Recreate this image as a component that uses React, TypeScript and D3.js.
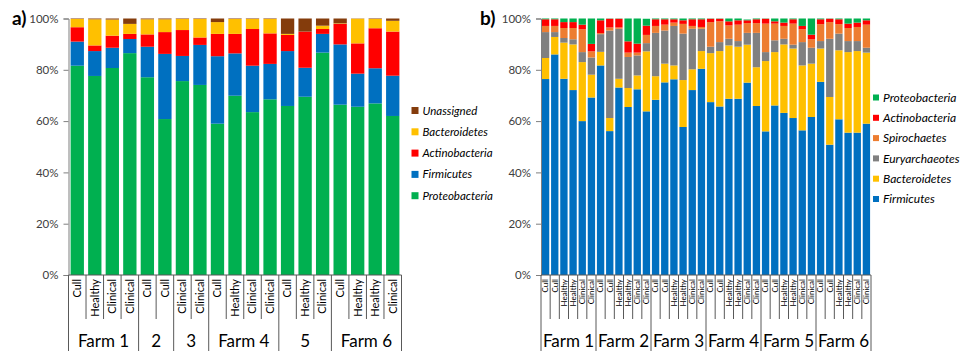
import React, { useEffect, useRef } from 'react';
import * as d3 from 'd3';

// ---- panel a data (relative abundance, %) ----
const catsA = ['Cull', 'Healthy', 'Clinical', 'Clinical', 'Cull', 'Cull', 'Clinical', 'Clinical', 'Cull', 'Healthy', 'Clinical', 'Clinical', 'Cull', 'Healthy', 'Clinical', 'Cull', 'Healthy', 'Healthy', 'Clinical'];
const farmLabelsA = ['Farm 1', '2', '3', 'Farm 4', '5', 'Farm 6'];
const farmSizesA = [4, 2, 2, 4, 3, 4];
const proteoA = [81.6, 77.6, 80.7, 86.5, 77.1, 60.8, 75.6, 74.1, 59.0, 69.9, 63.5, 68.5, 65.9, 69.5, 86.7, 66.4, 65.6, 66.9, 62.0];
const firmA = [9.4, 9.7, 7.9, 5.5, 11.9, 25.4, 9.8, 15.6, 26.3, 16.5, 18.1, 13.8, 21.4, 11.3, 7.3, 23.5, 12.9, 13.7, 15.7];
const actinoA = [5.6, 2.2, 4.7, 2.0, 4.8, 8.5, 10.1, 2.9, 8.7, 7.6, 14.3, 11.9, 6.3, 14.1, 1.9, 8.0, 11.8, 15.6, 17.2];
const bacteroA = [3.2, 10.2, 6.3, 3.9, 5.9, 5.0, 4.3, 7.2, 4.6, 5.8, 3.9, 5.6, 0.4, 0.0, 1.3, 0.2, 9.6, 3.6, 4.2];
const unassA = [0.2, 0.3, 0.4, 2.1, 0.3, 0.3, 0.2, 0.2, 1.4, 0.2, 0.2, 0.2, 6.0, 5.1, 2.8, 1.9, 0.1, 0.2, 0.9];

// ---- panel b data ----
const catsB = Array.from({ length: 6 }, () => ['Cull', 'Cull', 'Healthy', 'Healthy', 'Clinical', 'Clinical']).flat();
const farmLabelsB = ['Farm 1', 'Farm 2', 'Farm 3', 'Farm 4', 'Farm 5', 'Farm 6'];
const farmSizesB = [6, 6, 6, 6, 6, 6];
const firmB = [76.4, 86.0, 76.5, 72.1, 60.0, 69.2, 81.7, 56.1, 73.1, 65.5, 72.4, 63.8, 68.3, 75.1, 76.3, 57.7, 72.1, 80.4, 67.4, 65.7, 68.7, 68.7, 75.0, 65.9, 56.0, 66.1, 63.2, 61.2, 56.4, 61.6, 75.3, 50.8, 60.7, 55.5, 55.5, 59.0];
const bacteroB = [8.2, 6.8, 14.1, 17.8, 23.0, 8.9, 5.3, 5.1, 3.4, 7.4, 5.4, 23.4, 9.2, 7.3, 5.4, 18.3, 8.1, 6.9, 19.1, 21.6, 20.8, 20.3, 14.8, 15.1, 27.4, 20.8, 26.7, 27.1, 25.3, 20.8, 13.0, 18.6, 26.9, 31.4, 31.8, 27.7];
const euryB = [10.1, 1.9, 1.8, 2.0, 3.9, 6.7, 6.9, 34.1, 19.5, 12.1, 7.8, 3.2, 16.9, 12.9, 15.4, 18.1, 15.8, 8.7, 2.5, 3.5, 2.6, 2.2, 4.6, 13.4, 3.5, 4.6, 2.2, 1.5, 9.1, 6.2, 2.9, 22.7, 6.5, 4.3, 3.9, 1.9];
const spiroB = [2.4, 2.4, 3.9, 4.4, 8.9, 2.4, 0.4, 1.2, 0.5, 1.7, 1.1, 3.2, 2.7, 2.3, 1.3, 3.8, 1.1, 0.7, 9.6, 8.1, 5.2, 6.4, 3.8, 3.8, 11.1, 6.5, 5.0, 8.2, 5.0, 3.3, 6.6, 6.5, 3.7, 5.1, 5.5, 9.0];
const actinoB = [2.6, 2.6, 2.3, 2.3, 1.8, 2.9, 5.0, 3.4, 3.4, 4.4, 3.5, 3.6, 2.6, 2.1, 1.3, 1.4, 2.6, 3.0, 1.3, 1.0, 1.6, 1.7, 1.1, 1.5, 1.9, 0.9, 1.3, 1.7, 1.3, 1.8, 1.9, 1.3, 1.9, 1.7, 1.7, 1.7];
const proteoB = [0.3, 0.3, 1.4, 1.4, 2.4, 9.9, 1.1, 0.3, 0.3, 8.9, 9.8, 2.7, 0.3, 0.3, 0.3, 0.7, 0.3, 0.3, 0.3, 0.3, 1.1, 0.7, 0.3, 0.3, 0.3, 1.1, 1.6, 0.3, 2.9, 6.3, 0.3, 0.2, 0.3, 2.0, 1.6, 0.7];

const yTicks = [0, 20, 40, 60, 80, 100];

const COLORS = {
  Proteobacteria: '#00B050',
  Firmicutes: '#0070C0',
  Actinobacteria: '#FF0000',
  Bacteroidetes: '#FFC000',
  Unassigned: '#843C0C',
  Euryarchaeotes: '#808080',
  Spirochaetes: '#ED7D31',
};

const FONT = 'Lato, "Noto Sans", sans-serif';

function drawPanel(svg, cfg) {
  const { x0, x1, yTop, yBot, series, cats, farmLabels, farmSizes, catFont, pad, legend } = cfg;
  const n = cats.length;
  const idx = d3.range(n);

  const x = d3.scaleBand().domain(idx).range([x0, x1]).paddingInner(pad).paddingOuter(pad / 2);
  const y = d3.scaleLinear().domain([0, 100]).range([yBot, yTop]).clamp(true);

  const rows = idx.map(i => {
    const r = { i };
    series.forEach(s => { r[s.name] = s.values[i]; });
    return r;
  });
  const stack = d3.stack().keys(series.map(s => s.name))(rows);

  const g = svg.append('g');

  // bars
  stack.forEach(layer => {
    g.append('g')
      .selectAll('rect')
      .data(layer)
      .enter()
      .append('rect')
      .attr('x', d => x(d.data.i))
      .attr('width', x.bandwidth())
      .attr('y', d => y(d[1]))
      .attr('height', d => Math.max(0, y(d[0]) - y(d[1])))
      .attr('fill', COLORS[layer.key]);
  });

  // y axis
  const ya = g.append('g')
    .attr('transform', `translate(${x0},0)`)
    .call(d3.axisLeft(y).tickValues(yTicks).tickFormat(d => d + '%').tickSize(5).tickPadding(5));
  ya.select('.domain').attr('stroke', '#7f7f7f');
  ya.selectAll('line').attr('stroke', '#7f7f7f');
  ya.selectAll('text').style('font-family', FONT).style('font-size', '11.5px').attr('fill', '#404040');

  // x axis line
  g.append('line')
    .attr('x1', x0).attr('x2', x1)
    .attr('y1', yBot).attr('y2', yBot)
    .attr('stroke', '#595959');

  // separators: short between categories, long at farm boundaries
  const step = x.step();
  const bounds = new Set([0]);
  let acc = 0;
  farmSizes.forEach(s => { acc += s; bounds.add(acc); });
  d3.range(n + 1).forEach(k => {
    const xx = x0 + k * step;
    g.append('line')
      .attr('x1', xx).attr('x2', xx)
      .attr('y1', yBot).attr('y2', bounds.has(k) ? 351 : 319)
      .attr('stroke', '#595959');
  });

  // category labels
  g.append('g')
    .selectAll('text')
    .data(cats)
    .enter()
    .append('text')
    .attr('transform', (d, i) => `translate(${x(i) + x.bandwidth() / 2},${yBot + 4}) rotate(-90)`)
    .attr('text-anchor', 'end')
    .attr('dy', '0.35em')
    .style('font-family', FONT)
    .style('font-size', catFont + 'px')
    .attr('fill', '#000')
    .text(d => d);

  // farm labels
  let start = 0;
  farmSizes.forEach((s, k) => {
    const cx = x0 + (start + s / 2) * step;
    g.append('text')
      .attr('x', cx).attr('y', 347)
      .attr('text-anchor', 'middle')
      .style('font-family', FONT)
      .style('font-size', '17px')
      .attr('fill', '#000')
      .text(farmLabels[k]);
    start += s;
  });

  // legend
  const lg = g.append('g');
  legend.items.forEach((name, k) => {
    const cy = legend.y + k * legend.gap;
    lg.append('rect')
      .attr('x', legend.x).attr('y', cy - legend.box / 2)
      .attr('width', legend.box).attr('height', legend.box)
      .attr('fill', COLORS[name]);
    lg.append('text')
      .attr('x', legend.x + legend.box + 4).attr('y', cy)
      .attr('dy', '0.35em')
      .style('font-family', FONT)
      .style('font-style', 'italic')
      .style('font-size', legend.font + 'px')
      .attr('fill', '#000')
      .text(name);
  });
}

const App = () => {
  const svgRef = useRef(null);

  useEffect(() => {
    const svg = d3.select(svgRef.current);
    svg.selectAll('*').remove();

    drawPanel(svg, {
      x0: 68.5, x1: 401.5, yTop: 18.5, yBot: 275,
      pad: 0.24, catFont: 11,
      cats: catsA, farmLabels: farmLabelsA, farmSizes: farmSizesA,
      series: [
        { name: 'Proteobacteria', values: proteoA },
        { name: 'Firmicutes', values: firmA },
        { name: 'Actinobacteria', values: actinoA },
        { name: 'Bacteroidetes', values: bacteroA },
        { name: 'Unassigned', values: unassA },
      ],
      legend: { x: 411.5, y: 110.5, gap: 21.3, box: 7, font: 11.5, items: ['Unassigned', 'Bacteroidetes', 'Actinobacteria', 'Firmicutes', 'Proteobacteria'] },
    });

    drawPanel(svg, {
      x0: 541, x1: 871, yTop: 18.5, yBot: 275,
      pad: 0.2, catFont: 8,
      cats: catsB, farmLabels: farmLabelsB, farmSizes: farmSizesB,
      series: [
        { name: 'Firmicutes', values: firmB },
        { name: 'Bacteroidetes', values: bacteroB },
        { name: 'Euryarchaeotes', values: euryB },
        { name: 'Spirochaetes', values: spiroB },
        { name: 'Actinobacteria', values: actinoB },
        { name: 'Proteobacteria', values: proteoB },
      ],
      legend: { x: 873, y: 97.5, gap: 20.3, box: 6, font: 12, items: ['Proteobacteria', 'Actinobacteria', 'Spirochaetes', 'Euryarchaeotes', 'Bacteroidetes', 'Firmicutes'] },
    });

    // panel letters
    svg.append('text').attr('x', 12).attr('y', 25)
      .style('font-family', FONT).style('font-weight', 'bold').style('font-size', '19px')
      .text('a)');
    svg.append('text').attr('x', 480).attr('y', 25)
      .style('font-family', FONT).style('font-weight', 'bold').style('font-size', '19px')
      .text('b)');
  }, []);

  return (
    <svg ref={svgRef} width={972} height={351}
      style={{ position: 'absolute', left: 0, top: 0, background: '#fff' }} />
  );
};

export default App;
